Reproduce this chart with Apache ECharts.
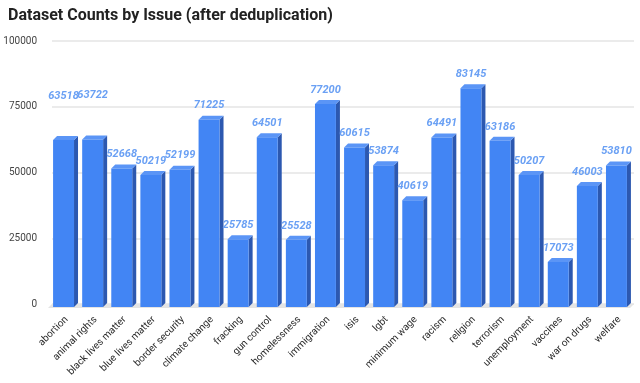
<!DOCTYPE html>
<html>
<head>
<meta charset="utf-8">
<script src="https://cdn.jsdelivr.net/npm/echarts@6/dist/echarts.min.js"></script>
<style>html,body{margin:0;padding:0;background:#fff}#c{width:640px;height:383px}</style>
</head>
<body>
<div id="c"></div>
<script>
const titleText = 'Dataset Counts by Issue (after deduplication)';
const categories = ['abortion','animal rights','black lives matter','blue lives matter','border security','climate change','fracking','gun control','homelessness','immigration','isis','lgbt','minimum wage','racism','religion','terrorism','unemployment','vaccines','war on drugs','welfare'];
const counts = [63518,63722,52668,50219,52199,71225,25785,64501,25528,77200,60615,53874,40619,64491,83145,63186,50207,17073,46003,53810];
const yTicks = [0,25000,50000,75000,100000];

// label lift overrides (style) for items whose label sits higher in the reference
const labelLift = {0: 30, 1: 30};

const FRONT = '#4285f4', SIDE = '#2c58b0', TOP = '#5b95f6', LABEL = '#6aa0f4';
const DX = 4, DY = 4;

const chart = echarts.init(document.getElementById('c'), null, {renderer: 'canvas'});
chart.setOption({
  animation: false,
  title: {text: titleText, left: 3, top: 3, textStyle: {fontFamily: 'Roboto', fontWeight: 'bold', fontSize: 16, color: '#222'}},
  grid: {left: 52, right: 6, top: 41, bottom: 79},
  xAxis: {
    type: 'category', data: categories,
    axisLine: {show: false}, axisTick: {show: false},
    axisLabel: {rotate: 45, interval: 0, margin: 14, fontFamily: 'Roboto', fontSize: 10, color: '#2a2a2a'}
  },
  yAxis: {
    type: 'value', min: yTicks[0], max: yTicks[yTicks.length-1], interval: 25000,
    axisLine: {show: false}, axisTick: {show: false},
    axisLabel: {margin: 15, fontFamily: 'Roboto', fontSize: 10, color: '#444', formatter: v => String(v)},
    splitLine: {lineStyle: {color: '#ebebeb', width: 2}}
  },
  series: [
    {
      type: 'custom', z: 1, silent: true,
      data: [[0]],
      renderItem: function (params, api) {
        const cs = params.coordSys;
        const y0 = api.coord([0, 0])[1];
        const l = cs.x, r = cs.x + cs.width;
        return {type: 'polygon', shape: {points: [[l, y0], [r, y0], [r - DX, y0 + DY], [l - DX, y0 + DY]]}, style: {fill: '#e4e4e4'}};
      }
    },
    {
      type: 'custom', z: 2,
      data: counts.map((v, i) => [i, v]),
      encode: {x: 0, y: 1},
      renderItem: function (params, api) {
        const i = api.value(0), v = api.value(1);
        const p = api.coord([i, v]);
        const p0 = api.coord([i, 0]);
        const bw = api.size([1, 0])[0] * 0.72;
        const x0 = p[0] - bw / 2 - 3, x1 = x0 + bw;
        const yt = p[1] + DY - 1, yb = p0[1] + DY - 1;
        const lift = labelLift[i] || 0;
        return {
          type: 'group',
          children: [
            {type: 'polygon', shape: {points: [[x1, yt], [x1 + DX, yt - DY], [x1 + DX, yb - DY], [x1, yb]]}, style: {fill: SIDE}},
            {type: 'polygon', shape: {points: [[x0, yt], [x0 + DX, yt - DY], [x1 + DX, yt - DY], [x1, yt]]}, style: {fill: TOP}},
            {type: 'rect', shape: {x: x0, y: yt, width: bw, height: yb - yt}, style: {fill: FRONT}},
            {type: 'text', x: (x0 + x1) / 2, y: p[1] - 11 - lift, style: {text: String(v), fill: LABEL, font: 'italic bold 11px Roboto', align: 'center', verticalAlign: 'middle'}}
          ]
        };
      }
    }
  ]
});
</script>
</body>
</html>
